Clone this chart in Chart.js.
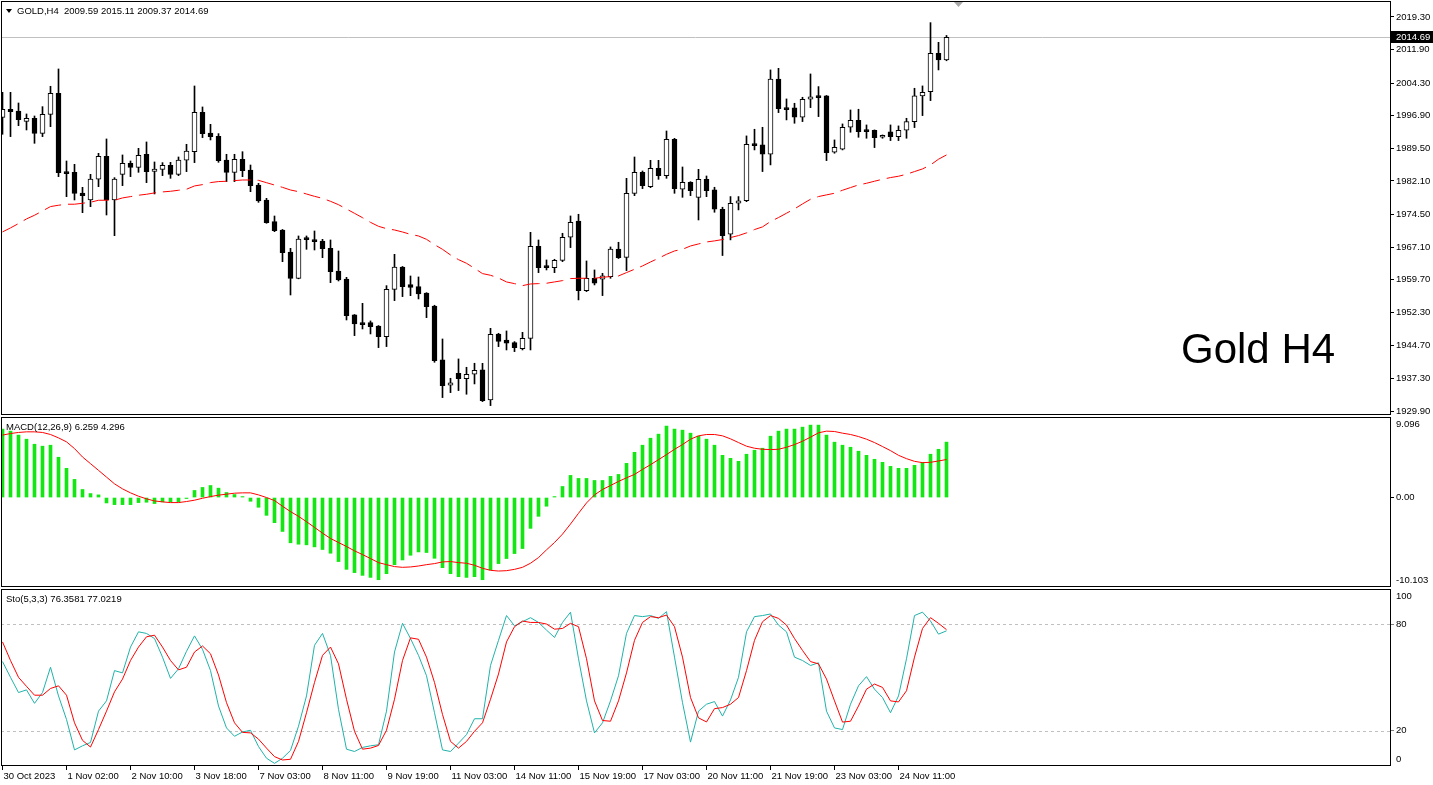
<!DOCTYPE html>
<html>
<head>
<meta charset="utf-8">
<script src="https://cdn.jsdelivr.net/npm/chart.js"></script>
<style>
  body { margin: 0; background: #fff; }
  #wrap { position: relative; width: 1433px; height: 785px; overflow: hidden; background: #fff; }
  canvas { position: absolute; left: 0; }
  .lbl { position: absolute; font: 9.5px 'Liberation Sans', Arial, sans-serif; line-height: 12px; white-space: pre; color: #000; z-index: 2; }
  .tri { display: inline-block; width: 0; height: 0; border-left: 3px solid transparent; border-right: 3px solid transparent; border-top: 4px solid #000; margin-right: 5px; vertical-align: 1px; }
  #bigTitle { position: absolute; left: 1181px; top: 328px; font: 42px 'Liberation Sans', Arial, sans-serif; line-height: 42px; color: #000; z-index: 2; }
</style>
</head>
<body>
<div id="wrap">
  <canvas id="cPrice" width="1433" height="416" style="top:0"></canvas>
  <canvas id="cMacd" width="1433" height="172" style="top:416px"></canvas>
  <canvas id="cSto" width="1433" height="197" style="top:588px"></canvas>
  <div class="lbl" style="left:6px;top:5px"><span class="tri"></span><span id="hdr"></span></div>
  <div class="lbl" id="macdLbl" style="left:6px;top:421px"></div>
  <div class="lbl" id="stoLbl" style="left:6px;top:593px"></div>
  <div id="bigTitle">Gold H4</div>
</div>
<script>
// GOLD H4 candles, one entry per bar
const openP = [1996.54,1998.36,1997.98,1995.63,1996.31,1992.91,1997.22,2001.99,1984.14,1984.06,
  1979.37,1977.79,1982.48,1987.69,1977.79,1983.61,1986.11,1985.20,1988.15,1984.29,
  1984.74,1985.65,1983.61,1986.79,1988.75,1997.68,1992.99,1992.23,1986.86,1984.06,
  1987.00,1984.58,1981.18,1977.78,1972.87,1970.98,1965.99,1960.01,1968.86,1968.71,
  1968.48,1966.82,1961.68,1959.86,1951.70,1949.96,1949.96,1949.20,1946.78,1957.52,
  1962.58,1958.58,1958.12,1956.69,1953.74,1941.49,1935.75,1938.47,1937.26,1938.24,
  1939.22,1932.42,1947.38,1946.02,1945.42,1944.06,1946.40,1967.28,1962.82,1962.44,
  1964.10,1969.32,1973.02,1957.22,1960.02,1959.79,1960.40,1966.67,1964.78,1979.30,
  1984.06,1980.81,1984.97,1983.30,1991.55,1980.21,1981.79,1978.39,1982.47,1980.07,
  1975.69,1970.02,1977.05,1977.65,1990.50,1990.28,1988.16,2005.24,1998.67,1998.67,
  1996.55,2000.63,2001.39,2001.39,1988.61,1989.29,1994.28,1995.87,1993.60,1993.60,
  1992.01,1993.22,1992.17,1993.60,1995.57,2001.39,2002.37,2011.07,2009.59];
const highP = [2002.21,2002.21,1999.79,1997.30,1996.84,1998.96,2003.58,2007.51,1986.63,1985.88,
  1980.66,1983.61,1988.37,1991.63,1982.85,1988.00,1986.63,1989.51,1990.95,1986.41,
  1986.26,1986.33,1987.54,1990.42,2003.65,1998.89,1994.95,1992.84,1988.15,1988.15,
  1988.74,1985.72,1981.56,1978.16,1974.15,1971.10,1966.82,1969.62,1969.62,1970.75,
  1968.86,1968.71,1966.21,1960.24,1951.80,1954.34,1950.34,1949.30,1958.35,1965.46,
  1962.70,1960.54,1960.32,1956.76,1953.90,1946.25,1937.33,1941.72,1939.83,1940.74,
  1940.73,1948.67,1947.54,1948.07,1945.65,1947.76,1970.45,1968.71,1964.18,1964.33,
  1970.23,1974.16,1974.54,1963.95,1961.91,1961.15,1967.13,1968.19,1982.70,1987.54,
  1984.36,1986.78,1986.78,1993.44,1991.77,1985.27,1981.94,1984.74,1983.23,1980.67,
  1976.14,1978.56,1978.56,1992.32,1993.83,1994.28,2007.29,2007.66,2000.71,1999.73,
  2001.09,2006.38,2003.51,2001.50,1991.41,1995.04,1998.21,1998.37,1994.81,1993.68,
  1992.54,1994.81,1994.59,1996.32,2003.13,2003.66,2018.02,2013.56,2015.11];
const lowP = [1992.69,1992.16,1994.65,1993.67,1990.64,1992.16,1994.42,1983.08,1978.54,1977.79,
  1974.91,1976.27,1980.81,1974.38,1969.69,1981.04,1983.08,1984.06,1981.72,1979.15,
  1983.31,1982.70,1983.31,1984.22,1986.26,1991.93,1991.40,1986.33,1981.95,1981.95,
  1983.07,1979.67,1977.25,1972.50,1970.60,1963.79,1956.23,1959.90,1966.59,1966.44,
  1964.70,1959.03,1959.41,1950.56,1947.01,1948.52,1947.39,1944.29,1944.52,1954.95,
  1955.86,1956.08,1955.33,1951.09,1940.96,1932.95,1934.08,1934.54,1933.71,1936.05,
  1932.04,1931.13,1944.51,1943.76,1943.38,1943.76,1943.76,1961.30,1961.91,1961.30,
  1963.80,1966.98,1955.11,1957.00,1958.51,1956.09,1960.02,1964.50,1961.76,1978.77,
  1980.36,1980.58,1982.47,1982.70,1979.30,1978.39,1978.77,1973.25,1978.54,1975.00,
  1965.18,1968.73,1975.53,1977.40,1989.14,1984.23,1985.74,1997.61,1995.95,1995.19,
  1995.57,1998.74,1996.70,1986.72,1988.39,1989.14,1993.15,1992.01,1991.79,1989.67,
  1991.79,1991.26,1991.26,1991.79,1994.21,1996.93,2000.33,2007.29,2009.37];
const closeP = [1998.36,1997.83,1996.01,1996.31,1992.91,1997.22,2001.99,1983.99,1983.76,1979.30,
  1978.77,1982.55,1987.69,1977.79,1982.55,1986.11,1985.20,1987.92,1984.22,1984.82,
  1985.65,1983.61,1986.86,1988.90,1997.68,1992.84,1992.16,1986.71,1984.06,1987.01,
  1984.43,1981.03,1977.55,1972.64,1970.82,1965.84,1960.01,1968.93,1968.78,1968.33,
  1966.74,1961.53,1959.64,1951.55,1949.66,1949.51,1949.05,1946.78,1957.52,1962.58,
  1958.12,1957.97,1956.46,1953.59,1941.34,1935.67,1936.28,1937.26,1938.24,1939.15,
  1932.27,1947.31,1945.72,1945.27,1944.29,1946.40,1967.28,1962.44,1962.44,1964.10,
  1969.32,1972.72,1957.22,1960.02,1958.89,1960.55,1966.67,1964.71,1979.30,1984.06,
  1981.04,1984.97,1983.30,1991.55,1980.36,1981.79,1979.90,1982.47,1979.90,1975.69,
  1969.71,1977.05,1977.57,1990.43,1990.12,1988.16,2005.24,1998.52,1998.29,1996.55,
  2000.63,2001.16,2001.01,1988.54,1989.75,1994.28,1995.87,1993.30,1993.30,1991.94,
  1992.39,1992.17,1993.60,1995.57,2001.39,2002.22,2011.07,2009.59,2014.69];

// red dashed moving average
const maLine = [1970.54,1971.45,1972.43,1973.49,1974.32,1975.30,1976.29,1976.59,1976.82,1976.82,
  1977.04,1977.27,1977.72,1977.72,1977.72,1978.25,1978.55,1978.86,1979.08,1979.39,
  1979.61,1979.76,1979.99,1980.22,1980.97,1981.27,1981.73,1981.96,1982.03,1982.18,
  1982.32,1982.32,1982.24,1981.71,1981.18,1980.65,1980.05,1979.67,1979.14,1978.61,
  1978.16,1977.48,1976.72,1975.74,1974.76,1973.77,1972.71,1971.81,1971.28,1970.98,
  1970.52,1969.99,1969.62,1968.86,1967.65,1966.59,1965.31,1964.25,1963.42,1962.28,
  1961.08,1960.70,1960.09,1959.19,1958.81,1958.35,1958.73,1958.81,1958.89,1959.19,
  1959.49,1959.95,1960.02,1960.02,1960.02,1960.25,1960.40,1960.55,1961.31,1962.06,
  1962.82,1963.72,1964.56,1965.46,1966.22,1966.60,1967.35,1967.81,1968.26,1968.50,
  1968.81,1969.26,1969.71,1970.32,1971.07,1971.68,1972.89,1973.80,1974.78,1975.76,
  1976.89,1977.95,1978.56,1978.94,1979.31,1979.99,1980.60,1981.20,1981.58,1982.04,
  1982.49,1982.87,1983.17,1983.62,1984.23,1984.83,1985.74,1987.03,1988.01];

// MACD(12,26,9): histogram and signal
const macdMain = [7.73,7.50,7.05,6.59,6.02,5.80,5.91,4.55,3.30,2.05,
  0.91,0.45,0.30,-0.61,-0.80,-0.80,-0.80,-0.57,-0.53,-0.68,
  -0.49,-0.49,-0.49,-0.11,0.80,1.14,1.36,1.06,0.57,0.34,
  0.11,-0.42,-1.10,-2.01,-2.84,-3.83,-5.11,-5.27,-5.34,-5.57,
  -5.87,-6.29,-7.23,-8.11,-8.48,-8.79,-9.02,-9.28,-8.60,-7.58,
  -7.05,-6.52,-6.14,-6.21,-6.86,-7.92,-8.60,-8.94,-9.02,-8.94,
  -9.28,-8.18,-7.46,-6.89,-6.33,-5.76,-3.48,-2.12,-0.98,0.11,
  1.25,2.50,2.16,2.16,1.93,1.93,2.39,2.61,3.86,5.11,
  5.91,6.70,7.16,8.07,7.73,7.61,7.27,6.93,6.59,5.91,
  4.77,4.43,4.09,4.89,5.34,5.57,6.93,7.50,7.73,7.73,
  7.95,8.18,8.18,7.05,6.25,5.91,5.68,5.23,4.77,4.32,
  3.98,3.52,3.30,3.30,3.64,3.98,4.89,5.45,6.259];
const macdSignal = [7.05,7.23,7.35,7.42,7.42,7.35,7.12,6.74,6.29,5.53,
  4.58,3.83,3.07,2.31,1.55,0.98,0.53,0.15,-0.15,-0.38,
  -0.49,-0.57,-0.57,-0.45,-0.30,-0.08,0.11,0.27,0.38,0.49,
  0.53,0.53,0.30,0.00,-0.34,-0.98,-1.59,-2.12,-2.73,-3.37,
  -4.02,-4.62,-5.08,-5.53,-6.02,-6.44,-6.89,-7.35,-7.58,-7.80,
  -7.88,-7.84,-7.73,-7.58,-7.46,-7.27,-7.23,-7.35,-7.42,-7.65,
  -7.99,-8.22,-8.30,-8.26,-8.11,-7.88,-7.42,-6.78,-5.91,-5.08,
  -4.13,-2.99,-1.78,-0.61,0.30,0.91,1.36,1.82,2.23,2.61,
  3.18,3.71,4.28,4.85,5.45,5.98,6.59,6.97,7.12,7.12,
  6.97,6.63,6.21,5.80,5.57,5.45,5.42,5.45,5.68,5.98,
  6.36,6.82,7.31,7.50,7.46,7.27,7.12,6.89,6.59,6.21,
  5.76,5.30,4.77,4.39,4.09,3.94,3.98,4.13,4.296];

// Stochastic(5,3,3): main and signal
const stochMain = [59.0,50.1,41.5,43.0,35.4,41.5,55.8,39.6,26.3,9.1,
  11.4,13.3,31.0,36.8,53.9,52.6,67.2,75.8,74.9,72.0,
  61.5,49.5,54.9,64.8,73.5,65.9,53.9,33.9,21.5,16.8,
  19.2,20.2,11.0,4.4,1.5,4.4,8.8,22.5,39.6,68.2,
  74.9,62.5,32.0,9.5,8.2,10.5,11.4,12.0,31.0,64.4,
  80.6,72.0,62.5,51.0,30.1,9.1,8.2,12.9,17.7,26.7,
  26.7,56.8,71.0,85.0,79.2,81.5,83.8,81.1,76.8,72.6,
  81.1,86.9,60.6,36.8,18.7,24.4,36.8,51.0,74.9,85.0,
  84.4,85.0,83.4,87.2,61.5,35.8,13.5,31.0,34.9,36.4,
  28.2,37.3,50.1,75.8,84.4,85.0,85.9,79.6,75.8,61.5,
  59.6,56.8,58.3,31.0,21.5,20.6,34.9,45.3,50.5,43.4,
  38.7,30.1,39.6,60.6,85.0,86.9,81.9,74.5,76.3581];
const stochSignal = [70.1,59.6,50.1,45.0,40.0,40.0,43.8,45.3,40.0,24.4,
  14.5,10.7,20.6,31.0,41.9,49.1,59.6,67.2,73.0,73.9,
  67.2,59.6,54.3,55.8,64.4,67.8,63.4,51.4,35.8,24.4,
  19.0,18.7,15.2,10.1,5.3,3.4,3.8,13.9,30.1,47.2,
  62.5,67.2,57.7,37.7,19.6,9.5,10.1,11.6,20.2,37.7,
  59.6,72.4,71.6,61.5,47.2,29.1,13.9,10.1,13.9,19.6,
  24.4,37.7,52.0,70.1,78.7,81.9,81.1,81.1,80.2,77.3,
  77.7,80.6,78.7,60.6,36.8,25.7,25.3,36.8,52.6,71.0,
  81.1,84.4,83.8,85.3,78.7,61.5,38.7,27.2,24.9,32.4,
  33.0,34.9,38.7,53.9,71.0,81.5,85.0,83.4,79.6,72.0,
  65.3,59.0,57.7,49.1,36.8,24.8,25.3,33.9,43.4,46.3,
  44.4,36.8,36.2,42.5,61.5,77.7,83.8,80.6,77.0219];

// axis labels
const priceTicks = [2019.30,2011.90,2004.30,1996.90,1989.50,1982.10,1974.50,1967.10,1959.70,1952.30,1944.70,1937.30,1929.90];
const timeLabels = ['30 Oct 2023','1 Nov 02:00','2 Nov 10:00','3 Nov 18:00','7 Nov 03:00','8 Nov 11:00',
  '9 Nov 19:00','11 Nov 03:00','14 Nov 11:00','15 Nov 19:00','17 Nov 03:00','20 Nov 11:00',
  '21 Nov 19:00','23 Nov 03:00','24 Nov 11:00'];
const BARS_PER_LABEL = 8;

const N = closeP.length;
const X_MIN = -0.1875, X_MAX = 173.4375;   // 8 px per bar, empty space on the right
const AXIS_W = 43;
const FONT = "'Liberation Sans', Arial, sans-serif";

Chart.defaults.color = '#000';
Chart.defaults.font.family = FONT;
Chart.defaults.font.size = 9.5;

document.getElementById('hdr').textContent =
  'GOLD,H4  ' + [openP[N-1], highP[N-1], lowP[N-1], closeP[N-1]].map(v => v.toFixed(2)).join(' ');
document.getElementById('macdLbl').textContent =
  'MACD(12,26,9) ' + macdMain[N-1].toFixed(3) + ' ' + macdSignal[N-1].toFixed(3);
document.getElementById('stoLbl').textContent =
  'Sto(5,3,3) ' + stochMain[N-1].toFixed(4) + ' ' + stochSignal[N-1].toFixed(4);

const pts = arr => arr.map((v, i) => ({x: i, y: v}));

// no label overflow padding: panels must line up pixel for pixel
function noPad(s) {
  s.paddingTop = 0; s.paddingBottom = 0; s.paddingLeft = 0; s.paddingRight = 0;
}

function hiddenX() {
  return { type: 'linear', min: X_MIN, max: X_MAX, display: false, offset: false, grid: { offset: false } };
}

function rightAxis(min, max, tickVals, fmt, tickColor) {
  return {
    position: 'right', min: min, max: max,
    afterBuildTicks: s => { s.ticks = tickVals.map(v => ({value: v})); },
    afterFit: s => { s.width = AXIS_W; noPad(s); },
    ticks: { autoSkip: false, padding: 2, callback: fmt, color: '#000' },
    grid: { drawOnChartArea: false, drawTicks: true, tickLength: 4, tickColor: tickColor || '#000' },
    border: { display: false }
  };
}

function axisText(chart, text, y) {
  const ctx = chart.ctx;
  ctx.save();
  ctx.font = '9.5px ' + FONT;
  ctx.fillStyle = '#000';
  ctx.textBaseline = 'middle';
  ctx.fillText(text, chart.chartArea.right + 6, y);
  ctx.restore();
}

function frame(chart) {
  const a = chart.chartArea, ctx = chart.ctx;
  ctx.save();
  ctx.strokeStyle = '#000';
  ctx.lineWidth = 1;
  ctx.strokeRect(a.left + 0.5, a.top + 0.5, a.right - a.left, a.bottom - a.top - 1);
  ctx.restore();
}

const common = {
  responsive: false,
  animation: false,
  events: [],
  plugins: { legend: { display: false }, tooltip: { enabled: false } }
};

// ---- price panel
const bars = closeP.map((_, i) => i);
new Chart(document.getElementById('cPrice'), {
  type: 'bar',
  data: {
    datasets: [
      { type: 'line', data: pts(maLine), borderColor: '#ff0000', borderWidth: 1, borderDash: [17, 7],
        pointRadius: 0, tension: 0, order: 0 },
      { data: bars.map(i => ({x: i, y: [openP[i], closeP[i]]})),
        backgroundColor: c => closeP[c.dataIndex] >= openP[c.dataIndex] ? '#ffffff' : '#000000',
        borderColor: '#000', borderWidth: 1, borderSkipped: false, barThickness: 5, minBarLength: 2,
        grouped: false, order: 1 },
      { data: bars.map(i => ({x: i, y: [lowP[i], highP[i]]})),
        backgroundColor: '#000', borderWidth: 0, barThickness: 1, grouped: false, order: 2 }
    ]
  },
  options: Object.assign({}, common, {
    layout: { autoPadding: false, padding: { left: 1, top: 1, right: 0, bottom: 1 } },
    scales: {
      x: hiddenX(),
      y: rightAxis(1929.0, 2022.93, priceTicks, v => v.toFixed(2))
    }
  }),
  plugins: [{
    id: 'priceDecor',
    beforeDatasetsDraw(chart) {
      const a = chart.chartArea, ctx = chart.ctx;
      const y = Math.round(chart.scales.y.getPixelForValue(closeP[N-1])) + 0.5;
      ctx.save();
      ctx.strokeStyle = '#c0c0c0';
      ctx.lineWidth = 1;
      ctx.beginPath(); ctx.moveTo(a.left, y); ctx.lineTo(a.right, y); ctx.stroke();
      ctx.restore();
    },
    afterDraw(chart) {
      frame(chart);
      const a = chart.chartArea, ctx = chart.ctx;
      const y = Math.round(chart.scales.y.getPixelForValue(closeP[N-1]));
      ctx.save();
      ctx.fillStyle = '#000';
      ctx.fillRect(a.right + 1, y - 6, chart.width - a.right - 1, 12);
      ctx.fillStyle = '#fff';
      ctx.font = '9.5px ' + FONT;
      ctx.textBaseline = 'middle';
      ctx.fillText(closeP[N-1].toFixed(2), a.right + 6, y + 0.5);
      // chart shift marker
      ctx.fillStyle = '#a8a8a8';
      ctx.beginPath();
      ctx.moveTo(a.left + 953, a.top + 1); ctx.lineTo(a.left + 962, a.top + 1); ctx.lineTo(a.left + 957.5, a.top + 6);
      ctx.closePath(); ctx.fill();
      ctx.restore();
    }
  }]
});

// ---- MACD panel
new Chart(document.getElementById('cMacd'), {
  type: 'bar',
  data: {
    datasets: [
      { type: 'line', data: pts(macdSignal), borderColor: '#ff0000', borderWidth: 1, pointRadius: 0, tension: 0, order: 0 },
      { data: pts(macdMain), backgroundColor: '#14e614', borderWidth: 0, barThickness: 3, grouped: false, order: 1 }
    ]
  },
  options: Object.assign({}, common, {
    layout: { autoPadding: false, padding: { left: 1, top: 1, right: 0, bottom: 1 } },
    scales: {
      x: hiddenX(),
      y: rightAxis(-10.103, 9.096, [0], v => v.toFixed(2))
    }
  }),
  plugins: [{
    id: 'macdDecor',
    afterDraw(chart) {
      frame(chart);
      const s = chart.scales.y, a = chart.chartArea;
      axisText(chart, s.max.toFixed(3), a.top + 7);
      axisText(chart, s.min.toFixed(3), a.bottom - 7);
    }
  }]
});

// ---- Stochastic panel
new Chart(document.getElementById('cSto'), {
  type: 'line',
  data: {
    datasets: [
      { data: pts(stochSignal), borderColor: '#ff0000', borderWidth: 1, pointRadius: 0, tension: 0, order: 0 },
      { data: pts(stochMain), borderColor: '#20b2aa', borderWidth: 1, pointRadius: 0, tension: 0, order: 1 }
    ]
  },
  options: Object.assign({}, common, {
    layout: { autoPadding: false, padding: { left: 1, top: 1, right: 0, bottom: 0 } },
    scales: {
      x: {
        type: 'linear', min: X_MIN, max: X_MAX, position: 'bottom', offset: false,
        afterBuildTicks: s => { s.ticks = timeLabels.map((t, k) => ({value: k * BARS_PER_LABEL})); },
        afterFit: s => { s.height = 19; noPad(s); },
        ticks: { autoSkip: false, maxRotation: 0, minRotation: 0, align: 'start', labelOffset: 1, padding: 1,
                 callback: (v, k) => timeLabels[k] },
        grid: { drawOnChartArea: false, drawTicks: true, tickLength: 4, tickColor: '#000', offset: false },
        border: { display: false }
      },
      y: rightAxis(0, 100, [20, 80], v => String(v), '#808080')
    }
  }),
  plugins: [{
    id: 'stoDecor',
    beforeDatasetsDraw(chart) {
      const a = chart.chartArea, ctx = chart.ctx, s = chart.scales.y;
      ctx.save();
      ctx.strokeStyle = '#c0c0c0';
      ctx.lineWidth = 1;
      ctx.setLineDash([3, 3]);
      [20, 80].forEach(v => {
        const y = Math.round(s.getPixelForValue(v)) + 0.5;
        ctx.beginPath(); ctx.moveTo(a.left, y); ctx.lineTo(a.right, y); ctx.stroke();
      });
      ctx.restore();
    },
    afterDraw(chart) {
      frame(chart);
      const s = chart.scales.y, a = chart.chartArea;
      axisText(chart, String(s.max), a.top + 7);
      axisText(chart, String(s.min), a.bottom - 7);
    }
  }]
});
</script>
</body>
</html>
